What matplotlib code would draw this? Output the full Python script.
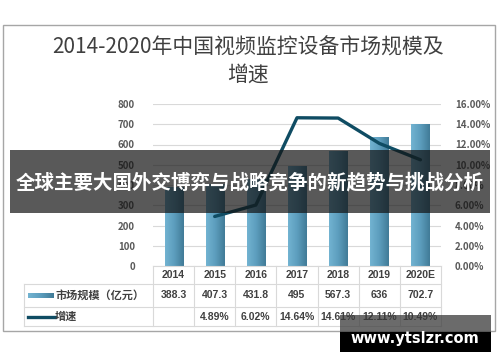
import numpy as np
import matplotlib
matplotlib.use("Agg")
import matplotlib.pyplot as plt
import matplotlib.colors as mcolors
from matplotlib.patches import Rectangle
from matplotlib.lines import Line2D
from matplotlib.transforms import blended_transform_factory
from matplotlib.ticker import FuncFormatter

plt.rcParams['font.family'] = ['Noto Sans CJK SC', 'DejaVu Sans']

# ---------------- data ----------------
years = ['2014', '2015', '2016', '2017', '2018', '2019', '2020E']
market_size = [388.3, 407.3, 431.8, 495, 567.3, 636, 702.7]
size_labels = ['388.3', '407.3', '431.8', '495', '567.3', '636', '702.7']
growth = [np.nan, 4.89, 6.02, 14.64, 14.61, 12.11, 10.49]
growth_labels = ['', '4.89%', '6.02%', '14.64%', '14.61%', '12.11%', '10.49%']
row_names = ['市场规模（亿元）', '增速']
title_lines = ['2014-2020年中国视频监控设备市场规模及', '增速']
banner_text = '全球主要大国外交博弈与战略竞争的新趋势与挑战分析'
watermark = 'www.ytslzr.com'

W, H = 500, 362
TXT = '#404040'
GRID = '#d9d9d9'
LINE_C = '#0f4c63'
bar_cmap = mcolors.LinearSegmentedColormap.from_list('bar', ['#72b3d1', '#5c9dbd', '#417b97'])


def fx(px):
    return px / W


def fy(py):
    return 1 - py / H


fig = plt.figure(figsize=(5, 3.62), dpi=100)

# outer frame
fig.patches.append(Rectangle((fx(3), fy(331)), fx(492), (331 - 25) / H,
                             transform=fig.transFigure, fill=False,
                             edgecolor='#a6a6a6', lw=1, zorder=0))

# title
fig.text(fx(248), fy(48), title_lines[0], ha='center', va='center',
         fontsize=15, color=TXT)
fig.text(fx(248), fy(75), title_lines[1], ha='center', va='center',
         fontsize=15, color=TXT)

# ---------------- main axes ----------------
L, R, T, B = 153, 441, 104, 266
ax = fig.add_axes([fx(L), fy(B), (R - L) / W, (B - T) / H])
x = np.arange(len(years))
bars = ax.bar(x, market_size, width=0.44, color='none', zorder=2)
grad = np.linspace(0, 1, 64).reshape(1, -1)
for b in bars:
    x0, y0 = b.get_xy()
    im = ax.imshow(grad, extent=[x0, x0 + b.get_width(), y0, y0 + b.get_height()],
                   aspect='auto', cmap=bar_cmap, zorder=2)
    im.set_clip_path(b)

ax.set_xlim(-0.5, len(years) - 0.5)
ax.set_ylim(0, 800)
ax.set_yticks(range(0, 801, 100))
ax.set_xticks([])
ax.grid(axis='y', color=GRID, lw=0.8)
ax.set_axisbelow(True)
for s in ['top', 'right', 'left']:
    ax.spines[s].set_visible(False)
ax.spines['bottom'].set_color(GRID)
ax.tick_params(axis='y', length=0, pad=13, labelsize=7, labelcolor='#595959')
for lab in ax.get_yticklabels():
    lab.set_fontweight('bold')

ax2 = ax.twinx()
ax2.plot(x, growth, color=LINE_C, lw=2.4, zorder=3, solid_capstyle='round')
ax2.set_ylim(0, 16)
ax2.set_yticks(range(0, 17, 2))
ax2.yaxis.set_major_formatter(FuncFormatter(lambda v, p: f'{v:.2f}%'))
ax2.tick_params(axis='y', length=0, pad=10, labelsize=7, labelcolor='#595959')
for lab in ax2.get_yticklabels():
    lab.set_fontweight('bold')
for s in ax2.spines.values():
    s.set_visible(False)

# ---------------- data table ----------------
tr = blended_transform_factory(ax.transData, fig.transFigure)
row_y = [266, 284, 307, 326]
for i in range(len(years) + 1):
    fig.add_artist(Line2D([i - 0.5, i - 0.5], [fy(row_y[0]), fy(row_y[-1])],
                          transform=tr, color=GRID, lw=0.8))
for yy in row_y[1:]:
    fig.add_artist(Line2D([fx(24), fx(R)], [fy(yy), fy(yy)],
                          transform=fig.transFigure, color=GRID, lw=0.8))
fig.add_artist(Line2D([fx(24), fx(24)], [fy(row_y[1]), fy(row_y[-1])],
                      transform=fig.transFigure, color=GRID, lw=0.8))

cy = [(row_y[k] + row_y[k + 1]) / 2 for k in range(3)]
for i, yr in enumerate(years):
    fig.text(i, fy(cy[0]), yr, transform=tr, ha='center', va='center',
             fontsize=7.5, color=TXT, fontweight='bold', family=['Liberation Sans'])
    fig.text(i, fy(cy[1]), size_labels[i], transform=tr, ha='center', va='center',
             fontsize=7.5, color=TXT, fontweight='bold', family=['Liberation Sans'])
    fig.text(i, fy(cy[2]), growth_labels[i], transform=tr, ha='center', va='center',
             fontsize=7.5, color=TXT, fontweight='bold', family=['Liberation Sans'])

# legend keys inside the table
sw = fig.add_axes([fx(28), fy(cy[1] + 3), 25 / W, 6 / H])
sw.imshow(grad, aspect='auto', cmap=bar_cmap)
sw.axis('off')
fig.add_artist(Line2D([fx(28), fx(55)], [fy(cy[2]), fy(cy[2])],
                      transform=fig.transFigure, color=LINE_C, lw=2.4))
fig.text(fx(55), fy(cy[1]), row_names[0], ha='left', va='center',
         fontsize=8, color=TXT, fontweight='bold')
fig.text(fx(55), fy(cy[2]), row_names[1], ha='left', va='center',
         fontsize=8, color=TXT, fontweight='bold')

# ---------------- overlays ----------------
fig.patches.append(Rectangle((fx(10), fy(213)), fx(480), (213 - 150) / H,
                             transform=fig.transFigure, color='#131313',
                             alpha=0.7, lw=0, zorder=10))
fig.text(fx(250), fy(183), banner_text, ha='center', va='center',
         fontsize=14, color='white', fontweight='bold', zorder=11)

fig.patches.append(Rectangle((fx(340), fy(332)), fx(151), 17 / H,
                             transform=fig.transFigure, color='#3a3a3a',
                             alpha=0.75, lw=0, zorder=10))
fig.patches.append(Rectangle((fx(340), fy(352)), fx(151), 20 / H,
                             transform=fig.transFigure, color='black',
                             lw=0, zorder=10))
fig.text(fx(415), fy(338), watermark, ha='center', va='center',
         fontsize=10.5, color='white', fontweight='bold',
         family=['DejaVu Sans'], zorder=11)

fig.savefig('out.png', dpi=100)
